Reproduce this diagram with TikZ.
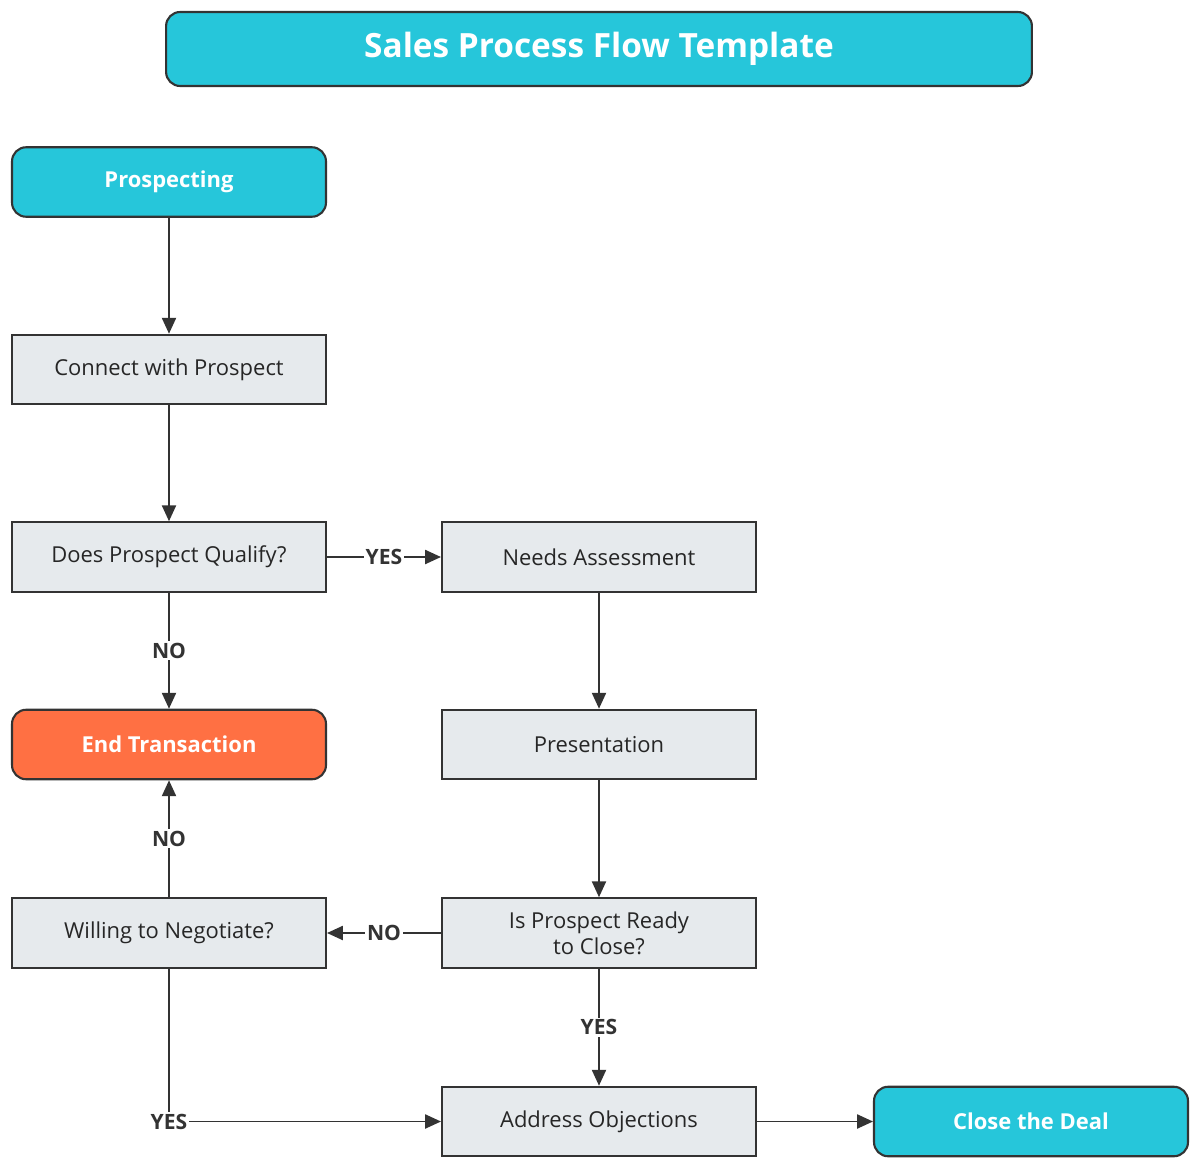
\documentclass[tikz,border=0pt]{standalone}
\usepackage{fontspec}
\setmainfont{Open Sans}
\usetikzlibrary{arrows.meta}
\definecolor{cyanb}{HTML}{26C6DA}
\definecolor{grayb}{HTML}{E6EAED}
\definecolor{orangeb}{HTML}{FF7043}
\definecolor{edge}{HTML}{333333}
\begin{document}
\begin{tikzpicture}[x=0.02cm,y=-0.02cm,
 box/.style={draw=edge,line width=1.2pt,fill=grayb,minimum width=6.28cm,minimum height=1.39cm,align=center,font=\fontsize{12.5}{15}\selectfont,text=black!85,inner sep=0pt},
 rbox/.style={box,rounded corners=8pt,font=\fontsize{12.5}{15}\selectfont\bfseries,text=white},
 arr/.style={draw=edge,line width=1pt,-{Triangle[length=9pt,width=8pt]}},
 lab/.style={fill=white,font=\fontsize{12}{14}\selectfont\bfseries,text=edge,inner sep=1pt}]
\useasboundingbox (0,0) rectangle (1200,1169);
\node[rbox,fill=cyanb,minimum width=17.32cm,minimum height=1.48cm,font=\fontsize{19}{22}\selectfont\bfseries] (title) at (599,49) {Sales Process Flow Template};
\node[rbox,fill=cyanb] (pro) at (169,182) {Prospecting};
\node[box] (con) at (169,369.5) {Connect with Prospect};
\node[box] (qua) at (169,557) {Does Prospect Qualify?};
\node[box] (nee) at (599,557) {Needs Assessment};
\node[rbox,fill=orangeb] (end) at (169,744.5) {End Transaction};
\node[box] (pre) at (599,744.5) {Presentation};
\node[box] (wil) at (169,933) {Willing to Negotiate?};
\node[box] (rea) at (599,933) {Is Prospect Ready\\to Close?};
\node[box] (add) at (599,1121.5) {Address Objections};
\node[rbox,fill=cyanb] (clo) at (1031,1121.5) {Close the Deal};
\draw[arr] (pro) -- (con);
\draw[arr] (con) -- (qua);
\draw[arr] (qua) -- node[lab]{YES} (nee);
\draw[arr] (qua) -- node[lab]{NO} (end);
\draw[arr] (nee) -- (pre);
\draw[arr] (pre) -- (rea);
\draw[arr] (wil) -- node[lab]{NO} (end);
\draw[arr] (rea) -- node[lab]{NO} (wil);
\draw[arr] (rea) -- node[lab]{YES} (add);
\draw[arr] (wil) |- node[lab,pos=0.5]{YES} (add);
\draw[arr] (add) -- (clo);
\end{tikzpicture}
\end{document}
